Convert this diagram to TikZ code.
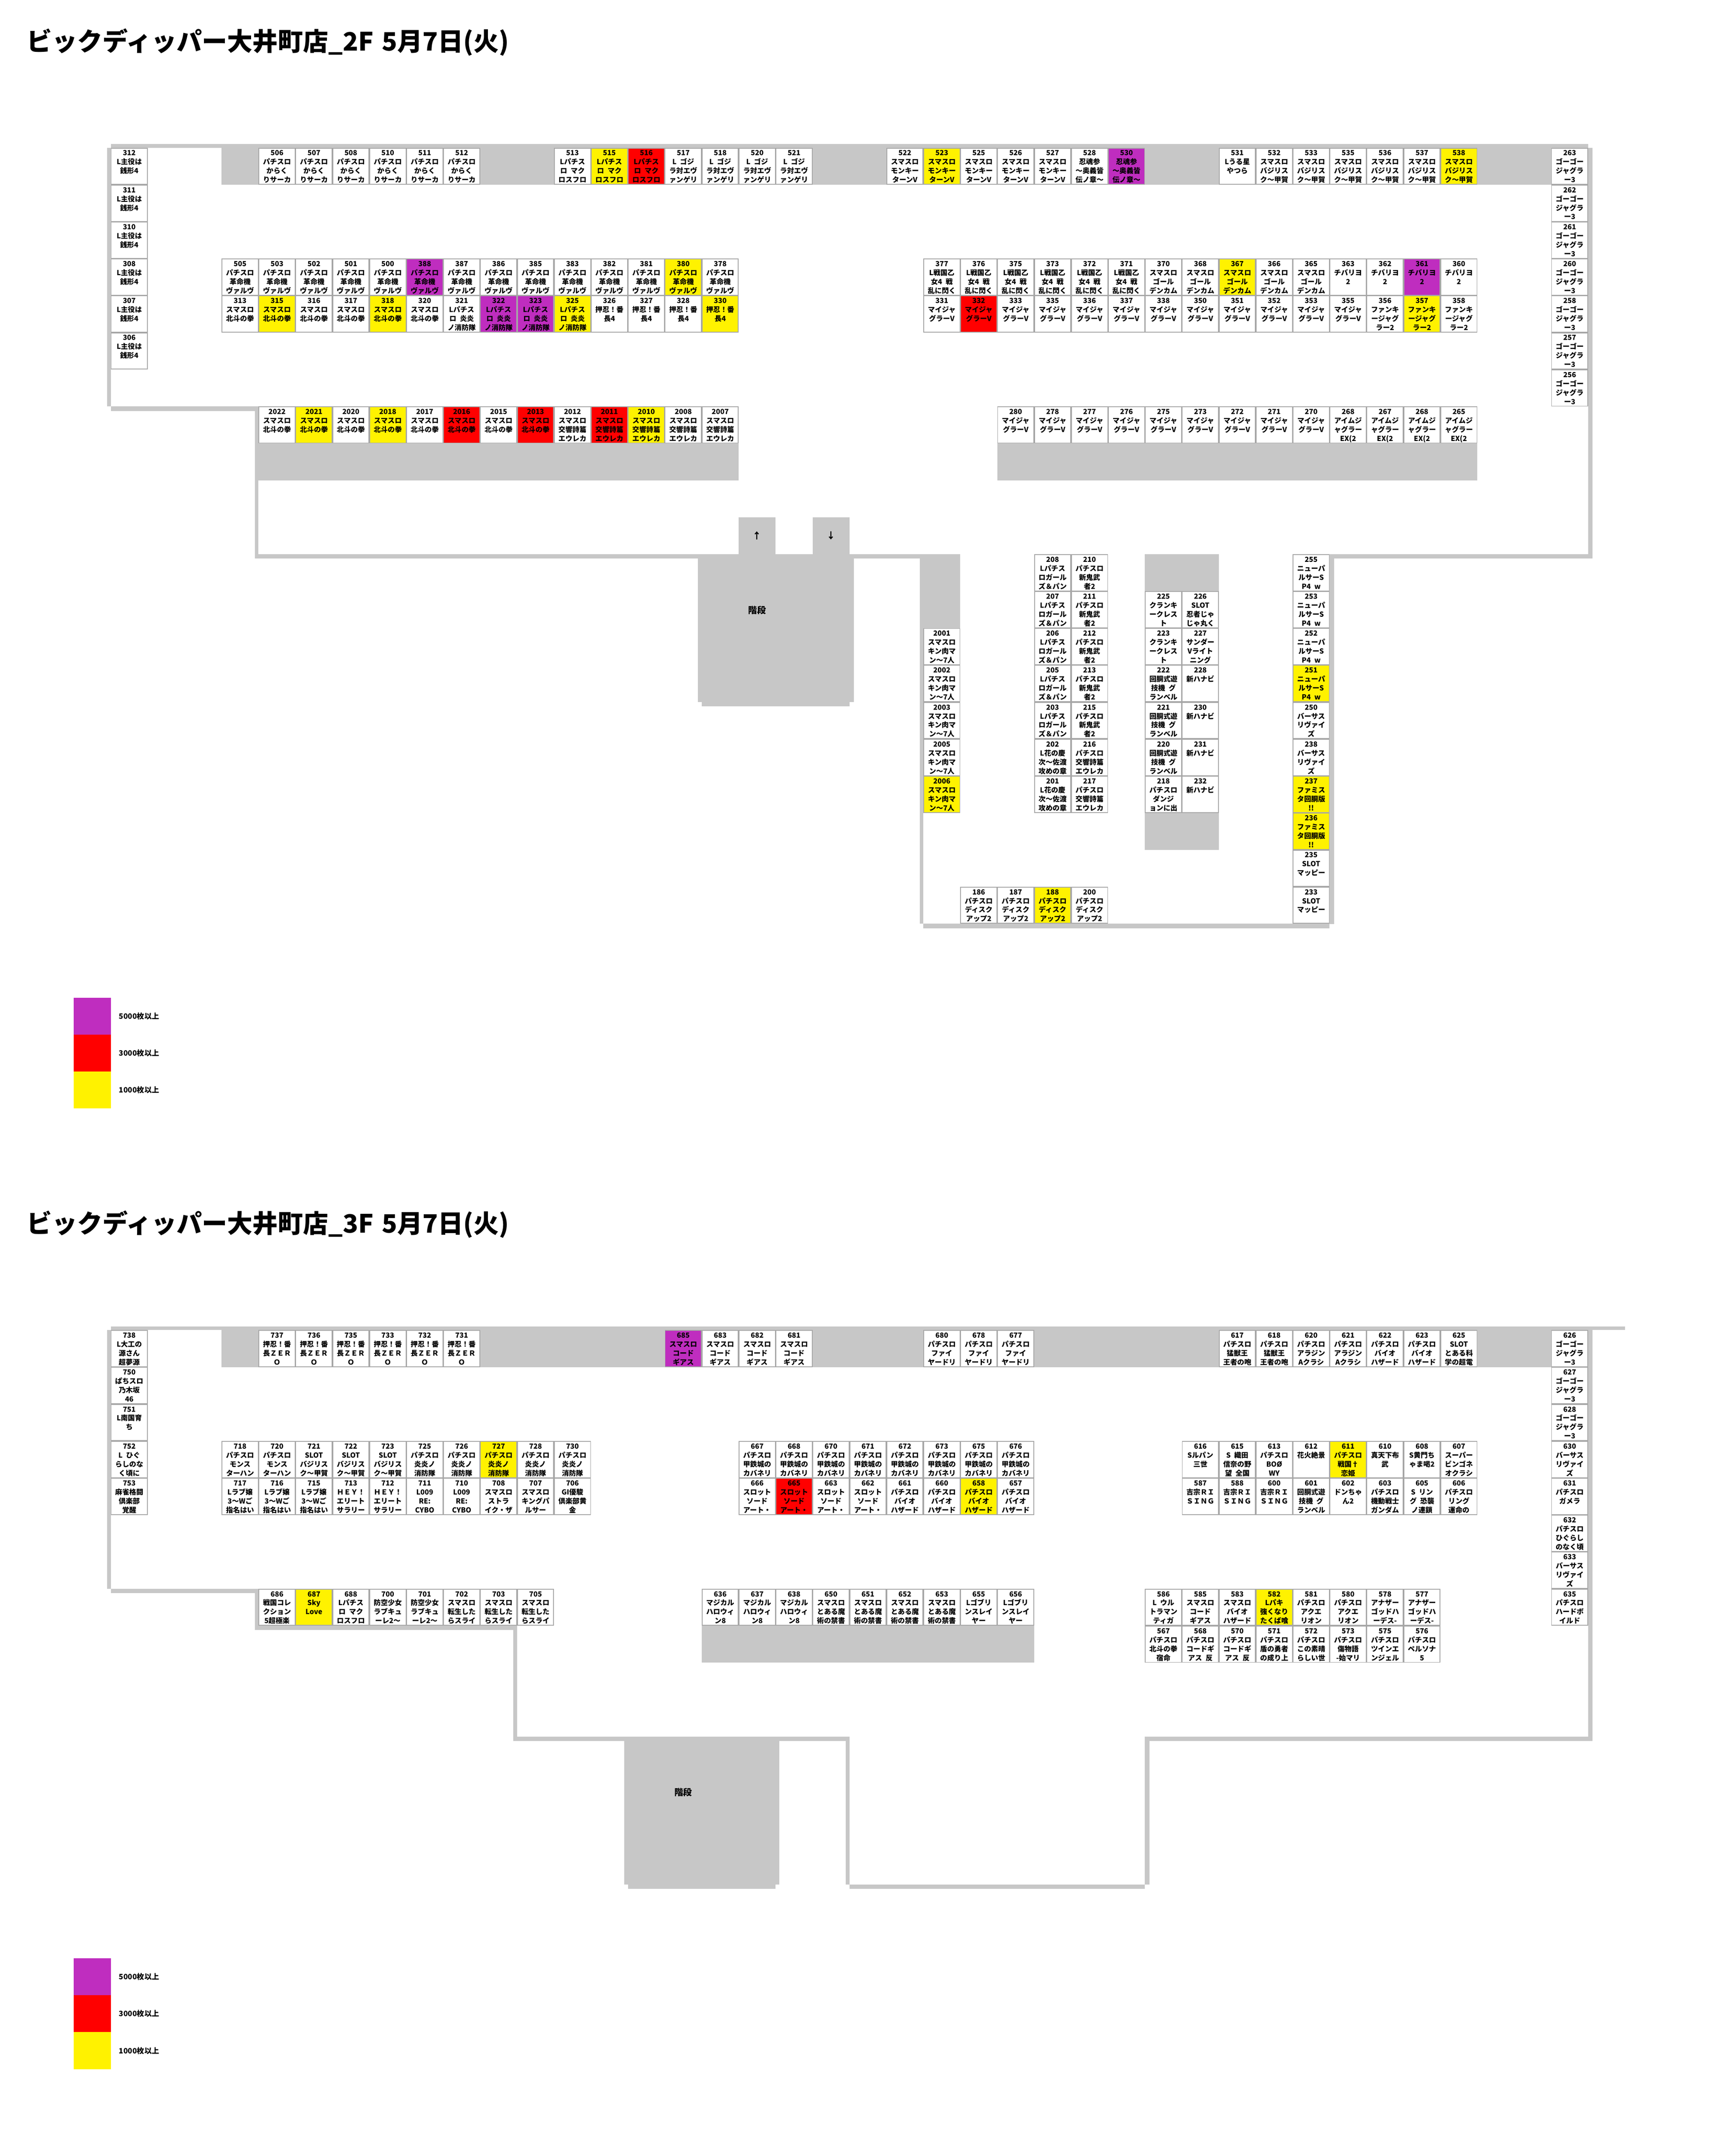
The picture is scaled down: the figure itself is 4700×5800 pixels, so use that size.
\documentclass[tikz,border=0pt]{standalone}
\usepackage{fontspec}
\setmainfont[WordSpace=2.2]{Noto Sans CJK JP}
\definecolor{wallgrey}{HTML}{C7C7C7}
\definecolor{seatline}{HTML}{A6A6A6}
\definecolor{hity}{HTML}{FFF200}
\definecolor{hitr}{HTML}{FF0000}
\definecolor{hitp}{HTML}{BF2DBF}
\tikzset{seat/.style={draw=seatline,line width=2pt,minimum width=98pt,minimum height=98pt,inner sep=0pt,outer sep=0pt,font=\bfseries\fontsize{19}{24.3}\selectfont}}
\tikzset{wall/.style={fill=wallgrey}}
\tikzset{headline/.style={anchor=west,inner sep=0pt,font=\bfseries\fontsize{68.5}{68.5}\selectfont}}
\tikzset{keytext/.style={anchor=west,inner sep=0pt,font=\bfseries\fontsize{20}{20}\selectfont}}
\tikzset{stairtext/.style={inner sep=0pt,font=\bfseries\fontsize{24}{24}\selectfont}}
\newcommand{\seat}[5]{\node[seat,fill=#1] (s#2-#3) at (#2+50,#3+50) {\parbox[c][98pt][t]{98pt}{\centering\rule{0pt}{20pt}#4\\#5}};}

\begin{document}
\begin{tikzpicture}[x=1pt,y=-1pt,line join=miter]
  \useasboundingbox (0,0) rectangle (4700,5800);
  \fill[white] (0,0) rectangle (4700,5800);

  % 2F
  \node[headline] (title2f) at (72,114) {ビックディッパー大井町店\_2F\hspace{23pt}5月7日(火)};
  \fill[wall] (300,390) rectangle (4300,400);
  \fill[wall] (600,400) rectangle (4200,500);
  \fill[wall] (290,400) rectangle (300,1100);
  \fill[wall] (300,1100) rectangle (700,1112);
  \fill[wall] (690,1112) rectangle (700,1500);
  \fill[wall] (690,1200) rectangle (2000,1300);
  \fill[wall] (2700,1200) rectangle (4000,1300);
  \fill[wall] (690,1500) rectangle (1890,1512);
  \fill[wall] (2000,1400) rectangle (2100,1500);
  \fill[wall] (2200,1400) rectangle (2300,1500);
  \fill[wall] (1890,1500) rectangle (2312,1900);
  \fill[wall] (1900,1900) rectangle (2300,1912);
  \fill[wall] (2312,1500) rectangle (2490,1512);
  \fill[wall] (2490,1500) rectangle (2600,1700);
  \fill[wall] (2490,1700) rectangle (2500,2500);
  \fill[wall] (2500,2500) rectangle (3600,2512);
  \fill[wall] (3100,1500) rectangle (3300,2300);
  \fill[wall] (3600,1500) rectangle (3612,2501);
  \fill[wall] (3612,1500) rectangle (4300,1512);
  \fill[wall] (4300,400) rectangle (4312,1512);
  \node[stairtext] (up2f) at (2050,1450) {↑};
  \node[stairtext] (down2f) at (2250,1450) {↓};
  \node[stairtext] (stairs2f) at (2050,1651) {階段};

  \foreach \py/\no in {400/312,500/311,600/310,700/308,800/307,900/306}
    \seat{white}{300}{\py}{\no}{L主役は\\銭形4};
  \foreach \px/\no in {700/506,800/507,900/508,1000/510,1100/511,1200/512}
    \seat{white}{\px}{400}{\no}{パチスロ\\からく\\りサーカ};
  \foreach \px/\no/\kind in {1500/513/white,1600/515/hity,1700/516/hitr}
    \seat{\kind}{\px}{400}{\no}{Lパチス\\ロ マク\\ロスフロ};
  \foreach \px/\no in {1800/517,1900/518,2000/520,2100/521}
    \seat{white}{\px}{400}{\no}{L ゴジ\\ラ対エヴ\\ァンゲリ};
  \foreach \px/\no/\kind in {2400/522/white,2500/523/hity,2600/525/white,2700/526/white,2800/527/white}
    \seat{\kind}{\px}{400}{\no}{スマスロ\\モンキー\\ターンV};
  \foreach \px/\no/\kind in {2900/528/white,3000/530/hitp}
    \seat{\kind}{\px}{400}{\no}{忍魂参\\〜奥義皆\\伝ノ章〜};
  \seat{white}{3300}{400}{531}{Lうる星\\やつら};
  \foreach \px/\no/\kind in {3400/532/white,3500/533/white,3600/535/white,3700/536/white,3800/537/white,3900/538/hity}
    \seat{\kind}{\px}{400}{\no}{スマスロ\\バジリス\\ク〜甲賀};
  \foreach \py/\no in {400/263,500/262,600/261,700/260,800/258,900/257,1000/256}
    \seat{white}{4200}{\py}{\no}{ゴーゴー\\ジャグラ\\ー3};

  \foreach \px/\no/\kind in {600/505/white,700/503/white,800/502/white,900/501/white,1000/500/white,1100/388/hitp,1200/387/white,1300/386/white,1400/385/white,1500/383/white,1600/382/white,1700/381/white,1800/380/hity,1900/378/white}
    \seat{\kind}{\px}{700}{\no}{パチスロ\\革命機\\ヴァルヴ};
  \foreach \px/\no/\kind in {600/313/white,700/315/hity,800/316/white,900/317/white,1000/318/hity,1100/320/white}
    \seat{\kind}{\px}{800}{\no}{スマスロ\\北斗の拳};
  \foreach \px/\no/\kind in {1200/321/white,1300/322/hitp,1400/323/hitp,1500/325/hity}
    \seat{\kind}{\px}{800}{\no}{Lパチス\\ロ 炎炎\\ノ消防隊};
  \foreach \px/\no/\kind in {1600/326/white,1700/327/white,1800/328/white,1900/330/hity}
    \seat{\kind}{\px}{800}{\no}{押忍！番\\長4};
  \foreach \px/\no in {2500/377,2600/376,2700/375,2800/373,2900/372,3000/371}
    \seat{white}{\px}{700}{\no}{L戦国乙\\女4 戦\\乱に閃く};
  \foreach \px/\no/\kind in {3100/370/white,3200/368/white,3300/367/hity,3400/366/white,3500/365/white}
    \seat{\kind}{\px}{700}{\no}{スマスロ\\ゴール\\デンカム};
  \foreach \px/\no/\kind in {3600/363/white,3700/362/white,3800/361/hitp,3900/360/white}
    \seat{\kind}{\px}{700}{\no}{チバリヨ\\2};
  \foreach \px/\no/\kind in {2500/331/white,2600/332/hitr,2700/333/white,2800/335/white,2900/336/white,3000/337/white,3100/338/white,3200/350/white,3300/351/white,3400/352/white,3500/353/white,3600/355/white}
    \seat{\kind}{\px}{800}{\no}{マイジャ\\グラーV};
  \foreach \px/\no/\kind in {3700/356/white,3800/357/hity,3900/358/white}
    \seat{\kind}{\px}{800}{\no}{ファンキ\\ージャグ\\ラー2};

  \foreach \px/\no/\kind in {700/2022/white,800/2021/hity,900/2020/white,1000/2018/hity,1100/2017/white,1200/2016/hitr,1300/2015/white,1400/2013/hitr}
    \seat{\kind}{\px}{1100}{\no}{スマスロ\\北斗の拳};
  \foreach \px/\no/\kind in {1500/2012/white,1600/2011/hitr,1700/2010/hity,1800/2008/white,1900/2007/white}
    \seat{\kind}{\px}{1100}{\no}{スマスロ\\交響詩篇\\エウレカ};
  \foreach \px/\no in {2700/280,2800/278,2900/277,3000/276,3100/275,3200/273,3300/272,3400/271,3500/270}
    \seat{white}{\px}{1100}{\no}{マイジャ\\グラーV};
  \foreach \px/\no in {3600/268,3700/267,3800/268,3900/265}
    \seat{white}{\px}{1100}{\no}{アイムジ\\ャグラー\\EX(2};

  \foreach \py/\no/\kind in {1700/2001/white,1800/2002/white,1900/2003/white,2000/2005/white,2100/2006/hity}
    \seat{\kind}{2500}{\py}{\no}{スマスロ\\キン肉マ\\ン〜7人};
  \foreach \py/\no in {1500/208,1600/207,1700/206,1800/205,1900/203}
    \seat{white}{2800}{\py}{\no}{Lパチス\\ロガール\\ズ＆パン};
  \foreach \py/\no in {2000/202,2100/201}
    \seat{white}{2800}{\py}{\no}{L花の慶\\次〜佐渡\\攻めの章};
  \foreach \py/\no in {1500/210,1600/211,1700/212,1800/213,1900/215}
    \seat{white}{2900}{\py}{\no}{パチスロ\\新鬼武\\者2};
  \foreach \py/\no in {2000/216,2100/217}
    \seat{white}{2900}{\py}{\no}{パチスロ\\交響詩篇\\エウレカ};
  \foreach \py/\no in {1600/225,1700/223}
    \seat{white}{3100}{\py}{\no}{クランキ\\ークレス\\ト};
  \foreach \py/\no in {1800/222,1900/221,2000/220}
    \seat{white}{3100}{\py}{\no}{回胴式遊\\技機 グ\\ランベル};
  \seat{white}{3100}{2100}{218}{パチスロ\\ダンジ\\ョンに出};
  \seat{white}{3200}{1600}{226}{SLOT\\忍者じゃ\\じゃ丸く};
  \seat{white}{3200}{1700}{227}{サンダー\\Vライト\\ニング};
  \foreach \py/\no in {1800/228,1900/230,2000/231,2100/232}
    \seat{white}{3200}{\py}{\no}{新ハナビ};
  \foreach \py/\no/\kind in {1500/255/white,1600/253/white,1700/252/white,1800/251/hity}
    \seat{\kind}{3500}{\py}{\no}{ニューパ\\ルサーS\\P4 w};
  \foreach \py/\no in {1900/250,2000/238}
    \seat{white}{3500}{\py}{\no}{バーサス\\リヴァイ\\ズ};
  \foreach \py/\no in {2100/237,2200/236}
    \seat{hity}{3500}{\py}{\no}{ファミス\\タ回胴版\\!!};
  \foreach \py/\no in {2300/235,2400/233}
    \seat{white}{3500}{\py}{\no}{SLOT\\マッピー};
  \foreach \px/\no/\kind in {2600/186/white,2700/187/white,2800/188/hity,2900/200/white}
    \seat{\kind}{\px}{2400}{\no}{パチスロ\\ディスク\\アップ2};

  \fill[hitp] (200,2700) rectangle (300,2800);
  \fill[hitr] (200,2800) rectangle (300,2900);
  \fill[hity] (200,2900) rectangle (300,3000);
  \node[keytext] (keyp2f) at (322,2750) {5000枚以上};
  \node[keytext] (keyr2f) at (322,2850) {3000枚以上};
  \node[keytext] (keyy2f) at (322,2950) {1000枚以上};

  % 3F
  \node[headline] (title3f) at (72,3314) {ビックディッパー大井町店\_3F\hspace{23pt}5月7日(火)};
  \fill[wall] (300,3590) rectangle (4400,3600);
  \fill[wall] (600,3600) rectangle (4200,3700);
  \fill[wall] (290,3600) rectangle (300,4300);
  \fill[wall] (300,4300) rectangle (700,4312);
  \fill[wall] (690,4312) rectangle (700,4400);
  \fill[wall] (690,4400) rectangle (1400,4412);
  \fill[wall] (1390,4412) rectangle (1400,4700);
  \fill[wall] (1390,4700) rectangle (1690,4712);
  \fill[wall] (1690,4700) rectangle (2110,5100);
  \fill[wall] (1700,5100) rectangle (2100,5112);
  \fill[wall] (2110,4700) rectangle (2300,4712);
  \fill[wall] (2290,4712) rectangle (2300,5100);
  \fill[wall] (2300,5100) rectangle (3100,5112);
  \fill[wall] (3100,4700) rectangle (3112,5100);
  \fill[wall] (3112,4700) rectangle (4300,4712);
  \fill[wall] (4300,3600) rectangle (4312,4712);
  \fill[wall] (1900,4400) rectangle (2800,4500);
  \node[stairtext] (stairs3f) at (1850,4851) {階段};

  \seat{white}{300}{3600}{738}{L大工の\\源さん\\超夢源};
  \seat{white}{300}{3700}{750}{ぱちスロ\\乃木坂\\46};
  \seat{white}{300}{3800}{751}{L南国育\\ち};
  \seat{white}{300}{3900}{752}{L ひぐ\\らしのな\\く頃に};
  \seat{white}{300}{4000}{753}{麻雀格闘\\倶楽部\\覚醒};
  \foreach \px/\no in {700/737,800/736,900/735,1000/733,1100/732,1200/731}
    \seat{white}{\px}{3600}{\no}{押忍！番\\長ＺＥＲ\\Ｏ};
  \foreach \px/\no/\kind in {1800/685/hitp,1900/683/white,2000/682/white,2100/681/white}
    \seat{\kind}{\px}{3600}{\no}{スマスロ\\コード\\ギアス};
  \foreach \px/\no in {2500/680,2600/678,2700/677}
    \seat{white}{\px}{3600}{\no}{パチスロ\\ファイ\\ヤードリ};
  \foreach \px/\no in {3300/617,3400/618}
    \seat{white}{\px}{3600}{\no}{パチスロ\\猛獣王\\王者の咆};
  \foreach \px/\no in {3500/620,3600/621}
    \seat{white}{\px}{3600}{\no}{パチスロ\\アラジン\\Aクラシ};
  \foreach \px/\no in {3700/622,3800/623}
    \seat{white}{\px}{3600}{\no}{パチスロ\\バイオ\\ハザード};
  \seat{white}{3900}{3600}{625}{SLOT\\とある科\\学の超電};
  \foreach \py/\no in {3600/626,3700/627,3800/628}
    \seat{white}{4200}{\py}{\no}{ゴーゴー\\ジャグラ\\ー3};
  \foreach \py/\no in {3900/630,4200/633}
    \seat{white}{4200}{\py}{\no}{バーサス\\リヴァイ\\ズ};
  \seat{white}{4200}{4000}{631}{パチスロ\\ガメラ};
  \seat{white}{4200}{4100}{632}{パチスロ\\ひぐらし\\のなく頃};
  \seat{white}{4200}{4300}{635}{パチスロ\\ハードボ\\イルド};

  \foreach \px/\no in {600/718,700/720}
    \seat{white}{\px}{3900}{\no}{パチスロ\\モンス\\ターハン};
  \foreach \px/\no in {800/721,900/722,1000/723}
    \seat{white}{\px}{3900}{\no}{SLOT\\バジリス\\ク〜甲賀};
  \foreach \px/\no/\kind in {1100/725/white,1200/726/white,1300/727/hity,1400/728/white,1500/730/white}
    \seat{\kind}{\px}{3900}{\no}{パチスロ\\炎炎ノ\\消防隊};
  \foreach \px/\no in {600/717,700/716,800/715}
    \seat{white}{\px}{4000}{\no}{Lラブ嬢\\3〜Wご\\指名はい};
  \foreach \px/\no in {900/713,1000/712}
    \seat{white}{\px}{4000}{\no}{ＨＥＹ！\\エリート\\サラリー};
  \foreach \px/\no in {1100/711,1200/710}
    \seat{white}{\px}{4000}{\no}{L009\\RE:\\CYBO};
  \seat{white}{1300}{4000}{708}{スマスロ\\ストラ\\イク・ザ};
  \seat{white}{1400}{4000}{707}{スマスロ\\キングパ\\ルサー};
  \seat{white}{1500}{4000}{706}{GI優駿\\倶楽部黄\\金};

  \foreach \px/\no in {2000/667,2100/668,2200/670,2300/671,2400/672,2500/673,2600/675,2700/676}
    \seat{white}{\px}{3900}{\no}{パチスロ\\甲鉄城の\\カバネリ};
  \foreach \px/\no/\kind in {2000/666/white,2100/665/hitr,2200/663/white,2300/662/white}
    \seat{\kind}{\px}{4000}{\no}{スロット\\ソード\\アート・};
  \foreach \px/\no/\kind in {2400/661/white,2500/660/white,2600/658/hity,2700/657/white}
    \seat{\kind}{\px}{4000}{\no}{パチスロ\\バイオ\\ハザード};

  \seat{white}{3200}{3900}{616}{Sルパン\\三世};
  \seat{white}{3300}{3900}{615}{S 織田\\信奈の野\\望 全国};
  \seat{white}{3400}{3900}{613}{パチスロ\\BOØ\\WY};
  \seat{white}{3500}{3900}{612}{花火絶景};
  \seat{hity}{3600}{3900}{611}{パチスロ\\戦国†\\恋姫};
  \seat{white}{3700}{3900}{610}{真天下布\\武};
  \seat{white}{3800}{3900}{608}{S黄門ち\\ゃま喝2};
  \seat{white}{3900}{3900}{607}{スーパー\\ビンゴネ\\オクラシ};
  \foreach \px/\no in {3200/587,3300/588,3400/600}
    \seat{white}{\px}{4000}{\no}{吉宗ＲＩ\\ＳＩＮＧ};
  \seat{white}{3500}{4000}{601}{回胴式遊\\技機 グ\\ランベル};
  \seat{white}{3600}{4000}{602}{ドンちゃ\\ん2};
  \seat{white}{3700}{4000}{603}{パチスロ\\機動戦士\\ガンダム};
  \seat{white}{3800}{4000}{605}{S リン\\グ 恐襲\\ノ連鎖};
  \seat{white}{3900}{4000}{606}{パチスロ\\リング\\運命の};

  \seat{white}{700}{4300}{686}{戦国コレ\\クション\\5超極楽};
  \seat{hity}{800}{4300}{687}{Sky\\Love};
  \seat{white}{900}{4300}{688}{Lパチス\\ロ マク\\ロスフロ};
  \foreach \px/\no in {1000/700,1100/701}
    \seat{white}{\px}{4300}{\no}{防空少女\\ラブキュ\\ーレ2〜};
  \foreach \px/\no in {1200/702,1300/703,1400/705}
    \seat{white}{\px}{4300}{\no}{スマスロ\\転生した\\らスライ};
  \foreach \px/\no in {1900/636,2000/637,2100/638}
    \seat{white}{\px}{4300}{\no}{マジカル\\ハロウィ\\ン8};
  \foreach \px/\no in {2200/650,2300/651,2400/652,2500/653}
    \seat{white}{\px}{4300}{\no}{スマスロ\\とある魔\\術の禁書};
  \foreach \px/\no in {2600/655,2700/656}
    \seat{white}{\px}{4300}{\no}{Lゴブリ\\ンスレイ\\ヤー};

  \seat{white}{3100}{4300}{586}{L ウル\\トラマン\\ティガ};
  \seat{white}{3200}{4300}{585}{スマスロ\\コード\\ギアス};
  \seat{white}{3300}{4300}{583}{スマスロ\\バイオ\\ハザード};
  \seat{hity}{3400}{4300}{582}{Lパキ\\強くなり\\たくば喰};
  \foreach \px/\no in {3500/581,3600/580}
    \seat{white}{\px}{4300}{\no}{パチスロ\\アクエ\\リオン};
  \foreach \px/\no in {3700/578,3800/577}
    \seat{white}{\px}{4300}{\no}{アナザー\\ゴッドハ\\ーデス-};
  \seat{white}{3100}{4400}{567}{パチスロ\\北斗の拳\\宿命};
  \foreach \px/\no in {3200/568,3300/570}
    \seat{white}{\px}{4400}{\no}{パチスロ\\コードギ\\アス 反};
  \seat{white}{3400}{4400}{571}{パチスロ\\盾の勇者\\の成り上};
  \seat{white}{3500}{4400}{572}{パチスロ\\この素晴\\らしい世};
  \seat{white}{3600}{4400}{573}{パチスロ\\傷物語\\-始マリ};
  \seat{white}{3700}{4400}{575}{パチスロ\\ツインエ\\ンジェル};
  \seat{white}{3800}{4400}{576}{パチスロ\\ペルソナ\\5};

  \fill[hitp] (200,5300) rectangle (300,5400);
  \fill[hitr] (200,5400) rectangle (300,5500);
  \fill[hity] (200,5500) rectangle (300,5600);
  \node[keytext] (keyp3f) at (322,5350) {5000枚以上};
  \node[keytext] (keyr3f) at (322,5450) {3000枚以上};
  \node[keytext] (keyy3f) at (322,5550) {1000枚以上};
\end{tikzpicture}
\end{document}
